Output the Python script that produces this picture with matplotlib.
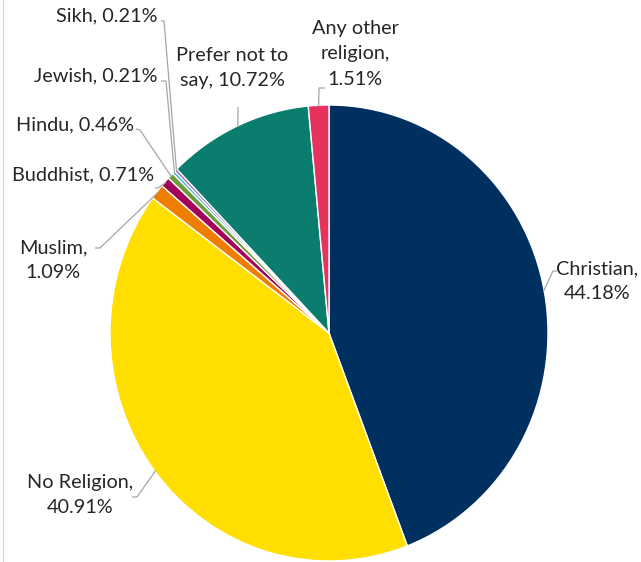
import numpy as np
import matplotlib
matplotlib.use("Agg")
import matplotlib.pyplot as plt

categories = ["Christian", "No Religion", "Muslim", "Buddhist", "Hindu",
              "Jewish", "Sikh", "Prefer not to say", "Any other religion"]
values = [44.18, 40.91, 1.09, 0.71, 0.46, 0.21, 0.21, 10.72, 1.51]
label_texts = ["Christian,\n44.18%", "No Religion,\n40.91%", "Muslim,\n1.09%",
               "Buddhist, 0.71%", "Hindu, 0.46%", "Jewish, 0.21%", "Sikh, 0.21%",
               "Prefer not to\nsay, 10.72%", "Any other\nreligion,\n1.51%"]
colors = ["#00305F", "#FFDE00", "#EE7D00", "#A3005A", "#6F9C3A",
          "#35A7DD", "#8A63B5", "#0B7D6E", "#E6335E"]

W, H, DPI = 641, 562, 100
cx, cy, rx, ry = 329, 333, 219, 228

plt.rcParams['font.family'] = ['Lato', 'DejaVu Sans']

fig = plt.figure(figsize=(W / DPI, H / DPI), dpi=DPI)
ax = fig.add_axes([0, 0, 1, 1])
wedges, _ = ax.pie(values, colors=colors, startangle=90, counterclock=False,
                   wedgeprops=dict(edgecolor="white", linewidth=1.0))
ax.set_aspect("auto")
ax.set_xlim(-cx / rx, (W - cx) / rx)
ax.set_ylim(-(H - cy) / ry, cy / ry)


def px(x, y):
    return (x - cx) / rx, (cy - y) / ry


# label layout: (x, y, ha) in pixels, leader points in pixels (before anchor)
layout = {
    "Christian": ((597, 281, "center"), [(557, 271), (553, 271)]),
    "No Religion": ((80, 495, "center"), [(132, 497), (137, 497)]),
    "Muslim": ((53, 260, "center"), [(95, 248), (100, 248)]),
    "Buddhist": ((154, 175, "right"), [(155, 188), (158, 188)]),
    "Hindu": ((134, 125, "right"), [(136, 129), (140, 130)]),
    "Jewish": ((158, 76, "right"), [(161, 81), (166, 81)]),
    "Sikh": ((158, 16, "right"), [(161, 21), (164, 21)]),
    "Prefer not to say": ((232, 68, "center"), [(238, 107)]),
    "Any other religion": ((355, 54, "center"), [(325, 88), (319, 88)]),
}

for w, cat, txt in zip(wedges, categories, label_texts):
    mid = np.deg2rad((w.theta1 + w.theta2) / 2)
    anchor = (np.cos(mid) * 0.995, np.sin(mid) * 0.995)
    (tx, ty, ha), pts = layout[cat]
    X, Y = px(tx, ty)
    ax.text(X, Y, txt, ha=ha, va="center", fontsize=14.3, color="#262626",
            linespacing=1.58, multialignment="center")
    line = [px(*p) for p in pts] + [anchor]
    ax.plot([p[0] for p in line], [p[1] for p in line], color="#A6A6A6",
            lw=0.9, solid_capstyle="butt")

ax.plot([px(2.5, 0)[0]] * 2, [px(0, 0)[1], px(0, H)[1]], color="#D9D9D9", lw=1)

fig.savefig("out.png", dpi=DPI)
